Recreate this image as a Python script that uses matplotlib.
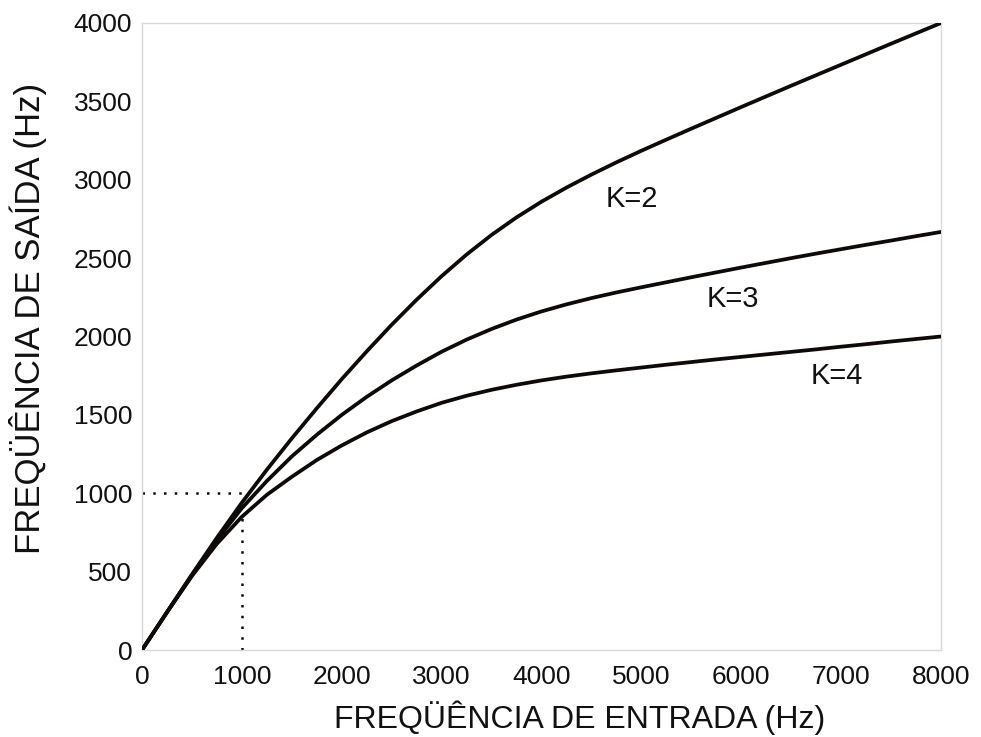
import matplotlib
matplotlib.use("Agg")
import matplotlib.pyplot as plt

plt.rcParams['font.family'] = ['Liberation Sans', 'DejaVu Sans']

freq_in = [0, 250, 500, 750, 1000, 1250, 1500, 1750, 2000, 2250, 2500, 2750,
           3000, 3250, 3500, 3750, 4000, 4250, 4500, 4750, 5000, 5250, 5500,
           5750, 6000, 6250, 6500, 6750, 7000, 7250, 7500, 7750, 8000]
out_k2 = [0, 242, 482, 716, 940, 1150, 1350, 1542, 1728, 1905, 2075, 2235,
          2385, 2523, 2648, 2760, 2860, 2950, 3033, 3111, 3185, 3256, 3326,
          3395, 3464, 3532, 3600, 3667, 3734, 3801, 3868, 3934, 4000]
out_k3 = [0, 241, 478, 702, 905, 1078, 1235, 1373, 1500, 1615, 1720, 1815,
          1903, 1980, 2048, 2108, 2160, 2205, 2245, 2281, 2314, 2346, 2378,
          2409, 2440, 2470, 2500, 2529, 2557, 2585, 2612, 2640, 2667]
out_k4 = [0, 240, 472, 678, 850, 990, 1105, 1212, 1305, 1388, 1460, 1522,
          1577, 1622, 1660, 1692, 1720, 1744, 1765, 1784, 1802, 1820, 1837,
          1854, 1870, 1886, 1902, 1918, 1935, 1951, 1968, 1984, 2000]

curve_labels = ["K=2", "K=3", "K=4"]
label_pos = [(4900, 2880), (5920, 2240), (6960, 1750)]

x_ticks = [0, 1000, 2000, 3000, 4000, 5000, 6000, 7000, 8000]
y_ticks = [0, 500, 1000, 1500, 2000, 2500, 3000, 3500, 4000]

ref_x = 1000
ref_y = 1000
ref_y_low = 840

fig = plt.figure(figsize=(9.81, 7.37), dpi=100)
ax = fig.add_axes([142/981, 1 - 650/737, (941-142)/981, (650-23)/737])

for ys in (out_k2, out_k3, out_k4):
    ax.plot(freq_in, ys, color='#0d0a08', lw=2.7, solid_capstyle='round',
            solid_joinstyle='round', zorder=3)

ax.plot([0, ref_x], [ref_y, ref_y], color='#0d0a08', lw=1.8,
        linestyle=(0, (1, 3.3)), zorder=2)
ax.plot([ref_x, ref_x], [0, ref_y_low], color='#0d0a08', lw=1.8,
        linestyle=(0, (1, 3.3)), zorder=2)

for lab, (lx, ly) in zip(curve_labels, label_pos):
    ax.text(lx, ly, lab, fontsize=21, ha='center', va='center', color='#111111')

ax.set_xlim(0, 8000)
ax.set_ylim(0, 4000)
ax.set_xticks(x_ticks)
ax.set_yticks(y_ticks)
ax.set_xticklabels([str(v) for v in x_ticks])
ax.set_yticklabels([str(v) for v in y_ticks])
ax.tick_params(axis='both', length=0, labelsize=19, colors='#111111')
ax.tick_params(axis='x', pad=11)
ax.tick_params(axis='y', pad=7)
for s in ax.spines.values():
    s.set_color('#d9d9d9')
    s.set_linewidth(1.0)

ax.set_xlabel("FREQÜÊNCIA DE ENTRADA (Hz)", fontsize=23, color='#111111')
ax.xaxis.label.set_va('baseline')
ax.xaxis.set_label_coords((580 - 142) / 799, (650 - 728) / 627)

ax.set_ylabel("FREQÜÊNCIA DE SAÍDA (Hz)", fontsize=25, color='#111111')
ax.yaxis.set_label_coords((47 - 142) / 799, (650 - 318) / 627)

fig.savefig("out.png", dpi=100, facecolor='white')
